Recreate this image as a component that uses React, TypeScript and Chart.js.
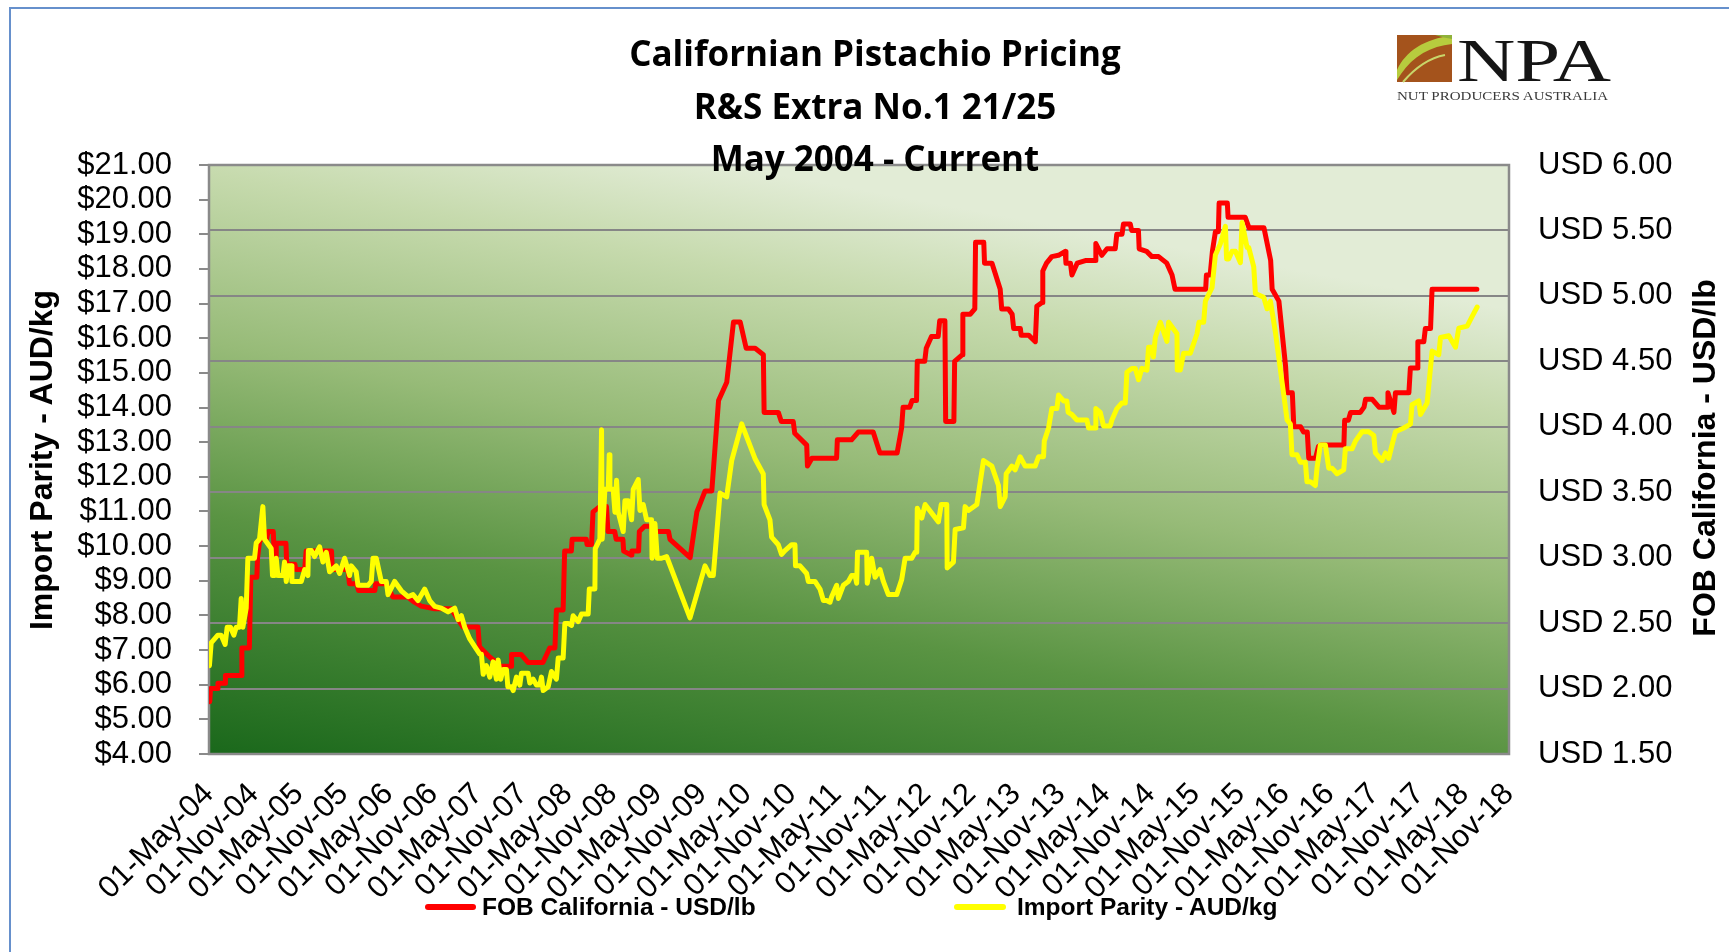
import React, { useEffect, useRef } from "react";
import { Chart, registerables } from "chart.js";

Chart.register(...registerables);

// ---- tick labels (every 6 months from 01-May-04) ----
const xTickLabels = [
  "01-May-04", "01-Nov-04", "01-May-05", "01-Nov-05", "01-May-06", "01-Nov-06",
  "01-May-07", "01-Nov-07", "01-May-08", "01-Nov-08", "01-May-09", "01-Nov-09",
  "01-May-10", "01-Nov-10", "01-May-11", "01-Nov-11", "01-May-12", "01-Nov-12",
  "01-May-13", "01-Nov-13", "01-May-14", "01-Nov-14", "01-May-15", "01-Nov-15",
  "01-May-16", "01-Nov-16", "01-May-17", "01-Nov-17", "01-May-18", "01-Nov-18",
];

// ---- FOB California (USD/lb), x = months after 01-May-04 ----
const fobMonths = [
  0.1, 0.2, 1.2, 1.2, 2.2, 2.2, 4.4, 4.4, 5.4, 5.6, 6.4, 6.5, 6.8, 7.7, 7.9, 8.6, 8.8, 9.0, 9.0, 10.3,
  10.4, 11.5, 11.6, 12.8, 13.0, 16.4, 16.5, 18.6, 18.8, 19.8, 20.0, 22.2, 22.3, 23.7, 24.6, 26.6, 27.5, 28.4, 30.2, 32.4,
  34.0, 36.0, 36.2, 37.4, 37.8, 38.5, 38.9, 40.5, 40.5, 41.8, 42.7, 44.7, 45.2, 45.6, 46.3, 46.5, 47.4, 47.6, 48.5, 48.6,
  50.5, 50.6, 51.2, 51.4, 52.3, 53.2, 53.4, 54.3, 54.5, 55.4, 55.5, 56.5, 56.6, 57.5, 57.6, 58.3, 59.2, 59.3, 61.5, 61.7,
  64.4, 65.3, 66.4, 67.3, 68.2, 69.3, 70.2, 71.1, 71.9, 73.1, 74.2, 74.3, 76.2, 76.6, 78.2, 78.4, 80.0, 80.1, 80.7, 84.0,
  84.1, 86.0, 86.9, 88.9, 89.4, 89.8, 92.1, 92.7, 92.9, 93.8, 94.1, 94.7, 94.8, 95.8, 96.0, 96.7, 97.6, 97.8, 98.5, 98.6,
  99.7, 99.8, 100.8, 100.9, 101.9, 102.5, 102.6, 103.7, 103.8, 104.8, 105.9, 106.1, 107.0, 107.5, 107.7, 108.6, 108.7, 109.7, 110.6, 110.8,
  111.5, 111.6, 112.1, 112.8, 113.7, 114.6, 114.7, 115.3, 115.5, 116.2, 117.3, 118.6, 118.7, 119.5, 120.2, 121.3, 121.5, 122.2, 122.4, 123.3,
  123.5, 124.4, 124.5, 125.5, 126.2, 127.1, 128.2, 128.9, 129.3, 133.4, 133.5, 134.0, 134.3, 134.7, 135.1, 135.2, 136.3, 136.4, 138.7, 139.2,
  141.2, 142.1, 142.3, 143.2, 144.1, 144.3, 145.0, 145.2, 146.1, 146.5, 147.0, 147.2, 148.1, 148.5, 148.8, 151.9, 152.0, 152.5, 152.8, 154.1,
  154.6, 154.8, 155.7, 156.6, 157.7, 157.8, 158.6, 158.8, 160.6, 160.8, 161.7, 161.8, 162.6, 162.8, 163.5, 163.7, 169.7,
];
const fobUsd = [
  1.90, 2.00, 2.00, 2.04, 2.04, 2.10, 2.10, 2.31, 2.31, 2.85, 2.85, 3.00, 3.14, 3.14, 3.20, 3.20, 2.94, 2.94, 3.11, 3.11,
  2.95, 2.95, 2.91, 2.91, 3.05, 3.05, 2.91, 2.91, 2.80, 2.80, 2.75, 2.75, 2.80, 2.80, 2.70, 2.70, 2.66, 2.63, 2.61, 2.61,
  2.47, 2.47, 2.32, 2.25, 2.23, 2.20, 2.17, 2.17, 2.26, 2.26, 2.20, 2.20, 2.26, 2.31, 2.31, 2.60, 2.60, 3.05, 3.05, 3.14,
  3.14, 3.10, 3.10, 3.35, 3.39, 3.39, 3.20, 3.20, 3.14, 3.14, 3.05, 3.02, 3.05, 3.05, 3.20, 3.24, 3.24, 3.20, 3.20, 3.14,
  3.00, 3.35, 3.51, 3.51, 4.20, 4.34, 4.80, 4.80, 4.60, 4.60, 4.55, 4.11, 4.11, 4.04, 4.04, 3.95, 3.86, 3.70, 3.76, 3.76,
  3.90, 3.90, 3.96, 3.96, 3.87, 3.80, 3.80, 3.99, 4.15, 4.15, 4.20, 4.20, 4.50, 4.50, 4.60, 4.69, 4.69, 4.81, 4.81, 4.04,
  4.04, 4.50, 4.55, 4.86, 4.86, 4.90, 5.41, 5.41, 5.25, 5.25, 5.05, 4.90, 4.90, 4.86, 4.75, 4.75, 4.70, 4.70, 4.65, 4.92,
  4.95, 5.19, 5.25, 5.30, 5.31, 5.34, 5.25, 5.25, 5.16, 5.25, 5.27, 5.27, 5.40, 5.31, 5.36, 5.36, 5.47, 5.47, 5.55, 5.55,
  5.50, 5.50, 5.36, 5.34, 5.30, 5.30, 5.25, 5.16, 5.05, 5.05, 5.16, 5.16, 5.34, 5.49, 5.49, 5.71, 5.71, 5.60, 5.60, 5.52,
  5.52, 5.27, 5.05, 4.96, 4.46, 4.26, 4.26, 4.00, 4.00, 3.96, 3.96, 3.76, 3.76, 3.85, 3.86, 3.86, 4.05, 4.05, 4.11, 4.11,
  4.15, 4.21, 4.21, 4.15, 4.15, 4.26, 4.11, 4.26, 4.26, 4.45, 4.45, 4.65, 4.65, 4.75, 4.75, 5.05, 5.05,
];

// ---- Import Parity (AUD/kg), x = months after 01-May-04 ----
const parityMonths = [
  0.06, 0.29, 1.18, 1.63, 2.16, 2.43, 2.88, 3.32, 3.64, 4.08, 4.31, 4.53, 4.98, 5.2, 6.09, 6.32, 6.76, 7.21, 7.43, 8.33,
  8.5, 8.77, 9.0, 9.22, 9.89, 10.11, 10.34, 10.56, 11.0, 11.1, 12.35, 12.8, 13.24, 13.3, 13.7, 14.13, 14.8, 15.25, 15.7, 16.14,
  17.03, 17.48, 18.15, 18.82, 19.04, 19.7, 19.94, 21.28, 21.72, 21.95, 22.39, 23.06, 23.73, 23.96, 24.85, 25.74, 26.64, 27.31, 27.98, 28.87,
  29.54, 30.21, 31.1, 32.0, 32.89, 33.34, 33.78, 34.23, 34.9, 35.57, 36.24, 36.46, 36.7, 37.13, 37.58, 38.03, 38.47, 38.7, 39.05, 39.37,
  39.81, 40.0, 40.48, 40.71, 41.15, 41.6, 41.82, 42.72, 42.94, 43.39, 43.83, 44.28, 44.5, 44.73, 45.4, 45.84, 46.5, 46.74, 47.4, 47.63,
  48.07, 48.52, 48.74, 49.41, 49.86, 50.75, 50.9, 51.65, 51.7, 52.32, 52.54, 52.63, 52.99, 53.43, 53.57, 53.66, 54.1, 54.33, 54.55, 54.77,
  55.44, 55.67, 56.11, 56.56, 56.78, 57.45, 57.68, 58.12, 58.57, 59.24, 59.3, 59.69, 60.0, 60.58, 61.25, 64.38, 66.39, 67.06, 67.5, 68.4,
  69.29, 69.96, 71.3, 73.07, 74.19, 74.3, 75.08, 75.3, 76.2, 76.64, 77.09, 77.98, 78.43, 78.5, 79.1, 79.99, 80.22, 81.11, 81.78, 82.23,
  82.67, 83.12, 83.34, 84.01, 84.24, 84.9, 85.57, 86.02, 86.47, 86.69, 86.8, 87.14, 88.03, 88.1, 88.7, 89.15, 89.82, 90.26, 90.93, 92.05,
  92.72, 93.17, 94.06, 94.51, 94.73, 94.8, 95.4, 95.85, 97.63, 98.0, 98.75, 98.8, 99.64, 99.87, 100.98, 101.2, 101.65, 102.77, 103.66, 104.78,
  105.67, 105.9, 106.56, 106.7, 107.46, 107.9, 108.57, 109.24, 110.58, 111.03, 111.7, 111.8, 112.37, 112.81, 113.48, 113.71, 114.38, 114.82, 115.0, 115.49,
  116.16, 117.5, 117.73, 118.62, 118.7, 119.29, 119.73, 120.63, 120.85, 121.52, 122.19, 122.64, 122.86, 123.53, 123.98, 124.42, 124.87, 125.54, 125.76, 126.21,
  126.4, 126.66, 127.33, 128.22, 128.44, 129.56, 129.6, 130.01, 130.45, 131.35, 132.24, 132.5, 133.13, 133.36, 134.25, 134.7, 135.37, 136.04, 136.2, 136.48,
  136.93, 137.38, 138.05, 138.27, 138.94, 139.16, 139.83, 140.06, 141.17, 141.62, 142.07, 142.73, 144.3, 144.74, 144.95, 145.62, 146.07, 146.74, 146.96, 147.41,
  148.08, 148.3, 148.75, 149.42, 149.87, 150.31, 150.98, 151.88, 152.1, 153.0, 153.44, 154.33, 155.23, 155.9, 156.12, 157.01, 157.46, 157.9, 158.35, 158.8,
  159.91, 160.81, 161.03, 161.92, 162.15, 163.04, 163.71, 164.6, 164.83, 165.94, 166.84, 167.28, 168.4, 169.07, 169.74,
];
const parityAud = [
  6.55, 7.21, 7.43, 7.43, 7.16, 7.66, 7.66, 7.43, 7.66, 7.66, 8.49, 7.66, 8.21, 9.65, 9.65, 10.09, 10.2, 11.14, 10.2, 9.93,
  9.15, 9.15, 9.65, 9.15, 9.15, 9.54, 8.98, 9.43, 9.43, 8.98, 8.98, 9.32, 9.15, 9.87, 9.87, 9.70, 9.98, 9.54, 9.82, 9.26,
  9.43, 9.21, 9.65, 9.15, 9.43, 9.26, 8.87, 8.87, 8.98, 9.65, 9.65, 8.98, 8.98, 8.60, 8.98, 8.71, 8.54, 8.60, 8.43, 8.76,
  8.43, 8.26, 8.21, 8.10, 8.21, 7.88, 7.99, 7.66, 7.32, 7.10, 6.88, 6.88, 6.30, 6.55, 6.22, 6.66, 6.16, 6.71, 6.16, 6.44,
  6.44, 5.94, 5.94, 5.83, 6.22, 5.99, 6.33, 6.33, 6.05, 6.16, 5.99, 5.99, 6.22, 5.83, 5.94, 6.38, 6.16, 6.77, 6.77, 7.77,
  7.77, 7.71, 7.99, 7.82, 8.04, 8.04, 8.76, 8.76, 9.93, 10.2, 13.36, 10.2, 11.64, 11.64, 12.64, 11.64, 11.64, 10.98, 11.9, 10.98,
  10.42, 11.31, 11.31, 10.76, 11.64, 11.92, 11.03, 11.20, 10.76, 10.76, 9.65, 10.65, 9.65, 9.65, 9.70, 7.93, 9.43, 9.15, 9.15, 11.53,
  11.42, 12.47, 13.53, 12.53, 12.08, 11.20, 10.76, 10.26, 10.04, 9.76, 9.87, 10.04, 10.04, 9.43, 9.43, 9.21, 8.98, 8.98, 8.76, 8.43,
  8.43, 8.38, 8.54, 8.87, 8.49, 8.87, 8.98, 9.15, 9.15, 8.93, 9.82, 9.82, 9.82, 8.93, 9.65, 9.10, 9.32, 8.98, 8.60, 8.60,
  9.04, 9.65, 9.65, 9.82, 9.82, 11.09, 10.81, 11.20, 10.70, 11.20, 11.20, 9.37, 9.54, 10.48, 10.53, 11.14, 11.03, 11.20, 12.47, 12.31,
  11.75, 11.14, 11.42, 12.09, 12.31, 12.20, 12.58, 12.31, 12.31, 12.58, 12.58, 13.03, 13.41, 13.97, 13.97, 14.36, 14.19, 14.19, 13.86, 13.80,
  13.64, 13.64, 13.41, 13.41, 13.97, 13.86, 13.47, 13.47, 13.64, 13.97, 14.13, 14.13, 15.02, 15.13, 15.13, 14.80, 15.13, 15.08, 15.74, 15.74,
  15.46, 16.02, 16.46, 15.91, 16.46, 16.13, 15.08, 15.08, 15.57, 15.57, 16.13, 16.46, 16.46, 17.07, 17.46, 18.40, 18.73, 19.23, 18.29, 18.29,
  18.51, 18.51, 18.18, 19.34, 18.62, 18.62, 18.07, 17.29, 17.18, 16.85, 17.07, 16.18, 13.64, 13.52, 12.64, 12.64, 12.42, 12.42, 11.86, 11.86,
  11.75, 12.25, 12.92, 12.92, 12.25, 12.25, 12.09, 12.20, 12.81, 12.81, 13.03, 13.30, 13.30, 13.19, 12.69, 12.47, 12.69, 12.53, 12.92, 13.30,
  13.41, 13.52, 14.08, 14.19, 13.80, 14.13, 15.63, 15.52, 16.02, 16.07, 15.74, 16.29, 16.35, 16.63, 16.90,
];

const seriesNames = ["FOB California - USD/lb", "Import Parity - AUD/kg"];
const titleLines = ["Californian Pistachio Pricing", "R&S Extra No.1 21/25", "May 2004 - Current"];

const AX_FONT = "'Liberation Sans', Arial, sans-serif";

const plotFrame = {
  id: "plotFrame",
  beforeDraw(chart: any) {
    const { ctx, chartArea: a } = chart;
    ctx.save();
    const g = ctx.createLinearGradient(a.left, a.bottom, a.left + 122, a.bottom - 662);
    g.addColorStop(0, "#1a681b");
    g.addColorStop(0.35, "#5a9443");
    g.addColorStop(0.6, "#97bb78");
    g.addColorStop(0.85, "#c6daad");
    g.addColorStop(1, "#e2ecd6");
    ctx.fillStyle = g;
    ctx.fillRect(a.left, a.top, a.right - a.left, a.bottom - a.top);
    ctx.restore();
  },
  beforeDatasetsDraw(chart: any) {
    const { ctx, chartArea: a } = chart;
    ctx.save();
    ctx.strokeStyle = "#8a8a8a";
    ctx.lineWidth = 2.5;
    ctx.strokeRect(a.left, a.top, a.right - a.left, a.bottom - a.top);
    ctx.restore();
  },
};

function ChartCanvas() {
  const ref = useRef<HTMLCanvasElement | null>(null);
  useEffect(() => {
    if (!ref.current) return;
    const fob = fobMonths.map((m, i) => ({ x: m, y: fobUsd[i] }));
    const par = parityMonths.map((m, i) => ({ x: m, y: parityAud[i] }));
    const chart = new Chart(ref.current, {
      type: "line",
      data: {
        datasets: [
          {
            label: seriesNames[0],
            data: fob,
            yAxisID: "yUsd",
            borderColor: "#ff0000",
            backgroundColor: "#ff0000",
            borderWidth: 5,
            pointRadius: 0,
            tension: 0,
            borderJoinStyle: "round",
            borderCapStyle: "round",
            order: 2,
          },
          {
            label: seriesNames[1],
            data: par,
            yAxisID: "yAud",
            borderColor: "#ffff00",
            backgroundColor: "#ffff00",
            borderWidth: 5,
            pointRadius: 0,
            tension: 0,
            borderJoinStyle: "round",
            borderCapStyle: "round",
            order: 1,
          },
        ],
      },
      options: {
        animation: false,
        responsive: false,
        maintainAspectRatio: false,
        layout: { padding: { top: 165, left: 0, right: 0, bottom: 0 } },
        plugins: {
          legend: { display: false },
          title: { display: false },
          tooltip: { enabled: false },
        },
        scales: {
          x: {
            type: "linear",
            position: "bottom",
            min: 0,
            max: 174,
            afterBuildTicks: (s: any) => {
              s.ticks = xTickLabels.map((_, i) => ({ value: i * 6 }));
            },
            ticks: {
              autoSkip: false,
              maxRotation: 45,
              minRotation: 45,
              padding: 22,
              color: "#000",
              font: { family: AX_FONT, size: 31 },
              callback: (v: any) => xTickLabels[Math.round(Number(v) / 6)] ?? "",
            },
            grid: { drawOnChartArea: false, drawTicks: false },
            border: { display: false },
            afterFit: (s: any) => {
              s.height = 198;
            },
          },
          yAud: {
            type: "linear",
            position: "left",
            min: 4,
            max: 21,
            ticks: {
              stepSize: 1,
              autoSkip: false,
              padding: 27,
              color: "#000",
              font: { family: AX_FONT, size: 31 },
              callback: (v: any) => "$" + Number(v).toFixed(2),
            },
            grid: {
              drawOnChartArea: false,
              drawTicks: true,
              tickLength: 10,
              color: "#8a8a8a",
              lineWidth: 2,
            },
            border: { display: false },
            afterFit: (s: any) => {
              s.width = 209;
            },
          },
          yUsd: {
            type: "linear",
            position: "right",
            min: 1.5,
            max: 6,
            ticks: {
              stepSize: 0.5,
              autoSkip: false,
              padding: 29,
              color: "#000",
              font: { family: AX_FONT, size: 31 },
              callback: (v: any) => "USD " + Number(v).toFixed(2),
            },
            grid: {
              drawOnChartArea: true,
              drawTicks: false,
              color: "#868686",
              lineWidth: 2,
            },
            border: { display: false },
            afterFit: (s: any) => {
              s.width = 220;
            },
          },
        },
      } as any,
      plugins: [plotFrame],
    });
    return () => chart.destroy();
  }, []);
  return (
    <canvas
      ref={ref}
      width={1729}
      height={952}
      style={{ position: "absolute", left: 0, top: 0, width: 1729, height: 952 }}
    />
  );
}

function Logo() {
  return (
    <svg
      width={230}
      height={80}
      viewBox="0 0 230 80"
      style={{ position: "absolute", left: 1395, top: 30 }}
    >
      <rect x={2} y={5} width={55} height={47} fill="#a4531c" />
      <path d="M2 40 C10 22 30 8 57 6 L57 14 C36 16 18 26 6 44 L2 50 Z" fill="#b7cc3e" />
      <path d="M40 5 L57 5 L57 9 C52 8 46 7 40 5 Z" fill="#8fb13a" />
      <path d="M8 52 C20 38 34 28 50 25" stroke="#c8d66a" strokeWidth={2} fill="none" />
      <text
        x={62}
        y={51}
        fontFamily="'Liberation Serif', 'DejaVu Serif', serif"
        fontSize={62}
        fill="#151515"
        textLength={154}
        lengthAdjust="spacingAndGlyphs"
      >
        NPA
      </text>
      <text
        x={2}
        y={70}
        fontFamily="'Liberation Serif', 'DejaVu Serif', serif"
        fontSize={13}
        fill="#3a3a3a"
        textLength={211}
        lengthAdjust="spacingAndGlyphs"
      >
        NUT PRODUCERS AUSTRALIA
      </text>
    </svg>
  );
}

export default function App() {
  useEffect(() => {
    document.body.style.margin = "0";
    document.body.style.overflow = "hidden";
  }, []);
  const titleStyle: React.CSSProperties = {
    position: "absolute",
    left: 475,
    width: 800,
    textAlign: "center",
    fontFamily: "'Open Sans', Lato, sans-serif",
    fontWeight: 700,
    fontSize: 35,
    lineHeight: "40px",
    color: "#000",
    whiteSpace: "nowrap",
  };
  const legendText: React.CSSProperties = {
    position: "absolute",
    top: 892,
    fontFamily: AX_FONT,
    fontWeight: 700,
    fontSize: 24.5,
    lineHeight: "30px",
    color: "#000",
    whiteSpace: "nowrap",
  };
  const axisTitle: React.CSSProperties = {
    position: "absolute",
    width: 420,
    height: 40,
    lineHeight: "40px",
    textAlign: "center",
    fontFamily: AX_FONT,
    fontWeight: 700,
    fontSize: 32,
    color: "#000",
    whiteSpace: "nowrap",
    transform: "rotate(-90deg)",
  };
  return (
    <div
      style={{
        position: "fixed",
        left: 0,
        top: 0,
        width: 1729,
        height: 952,
        overflow: "hidden",
        background: "#fff",
      }}
    >
      <div
        style={{
          position: "absolute",
          left: 9,
          top: 7,
          width: 1800,
          height: 1000,
          borderLeft: "2px solid #6690cc",
          borderTop: "2px solid #6690cc",
        }}
      />
      <ChartCanvas />
      <div style={{ ...titleStyle, top: 33 }}>{titleLines[0]}</div>
      <div style={{ ...titleStyle, top: 86 }}>{titleLines[1]}</div>
      <div style={{ ...titleStyle, top: 138 }}>{titleLines[2]}</div>
      <Logo />
      <div style={{ ...axisTitle, left: 41 - 210, top: 460 - 20 }}>{seriesNames[1]}</div>
      <div style={{ ...axisTitle, left: 1704 - 210, top: 458 - 20 }}>{seriesNames[0]}</div>
      <div
        style={{
          position: "absolute",
          left: 425,
          top: 904,
          width: 51,
          height: 6,
          borderRadius: 3,
          background: "#ff0000",
        }}
      />
      <div style={{ ...legendText, left: 482 }}>{seriesNames[0]}</div>
      <div
        style={{
          position: "absolute",
          left: 954,
          top: 904,
          width: 52,
          height: 6,
          borderRadius: 3,
          background: "#ffff00",
        }}
      />
      <div style={{ ...legendText, left: 1017 }}>{seriesNames[1]}</div>
    </div>
  );
}
